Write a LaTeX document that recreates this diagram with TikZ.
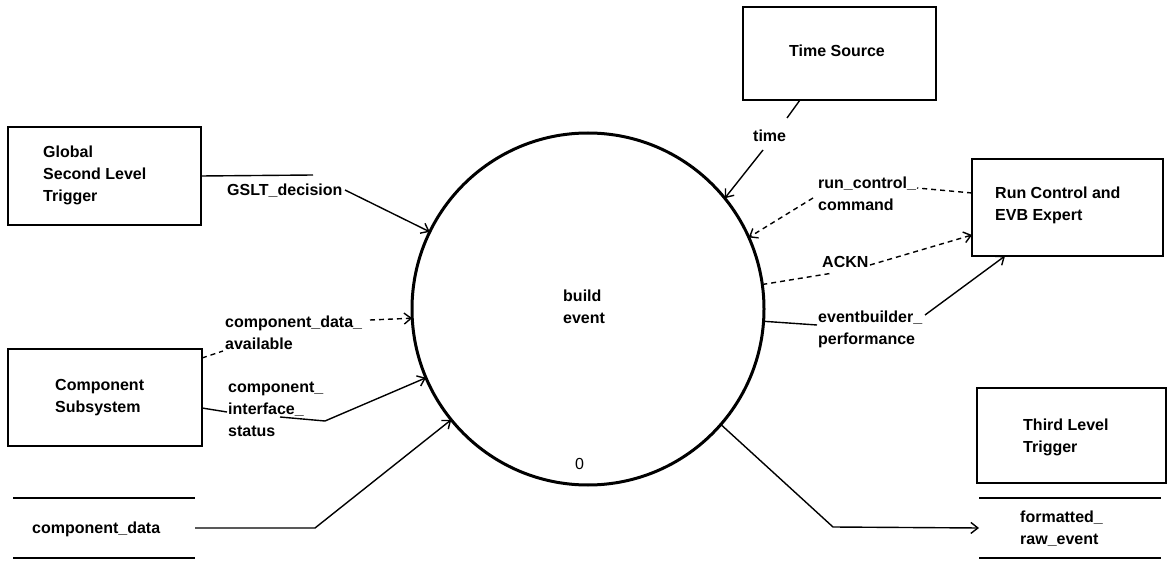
\documentclass[tikz,border=0pt]{standalone}
\usepackage{fontspec}
\setmainfont{Liberation Sans}
\usetikzlibrary{arrows.meta}
\begin{document}
\begin{tikzpicture}[x=1pt,y=-1pt,
  box/.style={draw,line width=2.8pt,inner sep=0pt,outer sep=0pt},
  proc/.style={draw,circle,line width=3pt,inner sep=0pt,outer sep=0pt,minimum size=352pt},
  store/.style={inner sep=0pt,outer sep=0pt,minimum width=182pt,minimum height=60pt},
  storeline/.style={line width=2.8pt},
  flow/.style={line width=1.4pt},
  ctl/.style={flow,dash pattern=on 5pt off 4pt},
  tip/.style={-{Straight Barb[length=7pt,width=11pt]}},
  lbl/.style={font=\fontsize{16}{22}\selectfont\bfseries,inner sep=0pt,anchor=base west,align=left},
  num/.style={font=\fontsize{16}{22}\selectfont,inner sep=0pt,anchor=base west}]
\useasboundingbox (0,0) rectangle (1168,561);
\fill[white] (0,0) rectangle (1168,561);

% boxes
\node[box,minimum width=193pt,minimum height=98pt] (glob) at (104.5,176) {};
\node[box,minimum width=194pt,minimum height=97pt] (comp) at (105,397.5) {};
\node[box,minimum width=193pt,minimum height=93pt] (ts) at (839.5,53.5) {};
\node[box,minimum width=191pt,minimum height=97pt] (rc) at (1067.5,207.5) {};
\node[box,minimum width=189pt,minimum height=95pt] (tlt) at (1071.5,435.5) {};

% process
\node[proc] (proc) at (588,309) {};

% data stores
\node[store] (cds) at (104,528) {};
\node[store] (frs) at (1070,528) {};
\draw[storeline] (cds.north west) -- (cds.north east) (cds.south west) -- (cds.south east);
\draw[storeline] (frs.north west) -- (frs.north east) (frs.south west) -- (frs.south east);

% texts (multi-line nodes: base = baseline of last line)
\node[lbl] (tglob) at (43,202) {Global\\Second Level\\Trigger};
\node[lbl] (tgslt) at (227,196) {GSLT\_decision};
\node[lbl] (tcda) at (225,350) {component\_data\_\\available};
\node[lbl] (tcomp) at (55,413) {Component\\Subsystem};
\node[lbl] (tcis) at (228,436) {component\_\\interface\_\\status};
\node[lbl] (tcdat) at (32,533) {component\_data};
\node[lbl] (tproc) at (563,324) {build\\event};
\node[num] (tnum) at (575,469) {0};
\node[lbl,anchor=base] (tts) at (837,57) {Time Source};
\node[lbl] (ttime) at (753,142) {time};
\node[lbl] (trcc) at (818,211) {run\_control\_\\command};
\node[lbl] (trc) at (995,221) {Run Control and\\EVB Expert};
\node[lbl] (tack) at (822,268) {ACKN};
\node[lbl] (teb) at (818,345) {eventbuilder\_\\performance};
\node[lbl] (ttlt) at (1023,452) {Third Level\\Trigger};
\node[lbl] (tfr) at (1020,544) {formatted\_\\raw\_event};

% free ends of connectors
\coordinate (gA) at (313,175);
\coordinate (gB) at (345,190);
\coordinate (cdaA) at (223,351);
\coordinate (cdaB) at (370,320);
\coordinate (cisA) at (227,412);
\coordinate (cisB) at (280,417);
\coordinate (cisC) at (325,421);
\coordinate (cdA) at (315,528);
\coordinate (tA) at (787,118);
\coordinate (tB) at (763,150);
\coordinate (rcA) at (917,188);
\coordinate (rcB) at (813,198);
\coordinate (akA) at (833,273);
\coordinate (akB) at (870,265);
\coordinate (ebA) at (817,325);
\coordinate (ebB) at (925,315);
\coordinate (frA) at (833,527);

% connectors
\draw[flow] (glob.east) -- (gA);
\draw[flow,tip] (gB) -- (proc.154.3);
\draw[ctl] ([yshift=39.5pt]comp.east) -- (cdaA);
\draw[ctl,tip] (cdaB) -- (proc.183.3);
\draw[flow] ([yshift=-10.5pt]comp.east) -- (cisA);
\draw[flow,tip] (cisB) -- (cisC) -- (proc.203.3);
\draw[flow,tip] (cds.east) -- (cdA) -- (proc.219.2);
\draw[flow] ([xshift=-39.5pt]ts.south) -- (tA);
\draw[flow,tip] (tB) -- (proc.39);
\draw[ctl] ([yshift=14.5pt]rc.west) -- (rcA);
\draw[ctl,tip] (rcB) -- (proc.24.7);
\draw[ctl] (proc.8.5) -- (akA);
\draw[ctl,tip] (akB) -- ([yshift=-27.5pt]rc.west);
\draw[flow] (proc.-4.2) -- (ebA);
\draw[flow,tip] (ebB) -- ([xshift=-62.5pt]rc.south);
\draw[flow,tip] (proc.-41.6) -- (frA) -- (frs.west);
\end{tikzpicture}
\end{document}
